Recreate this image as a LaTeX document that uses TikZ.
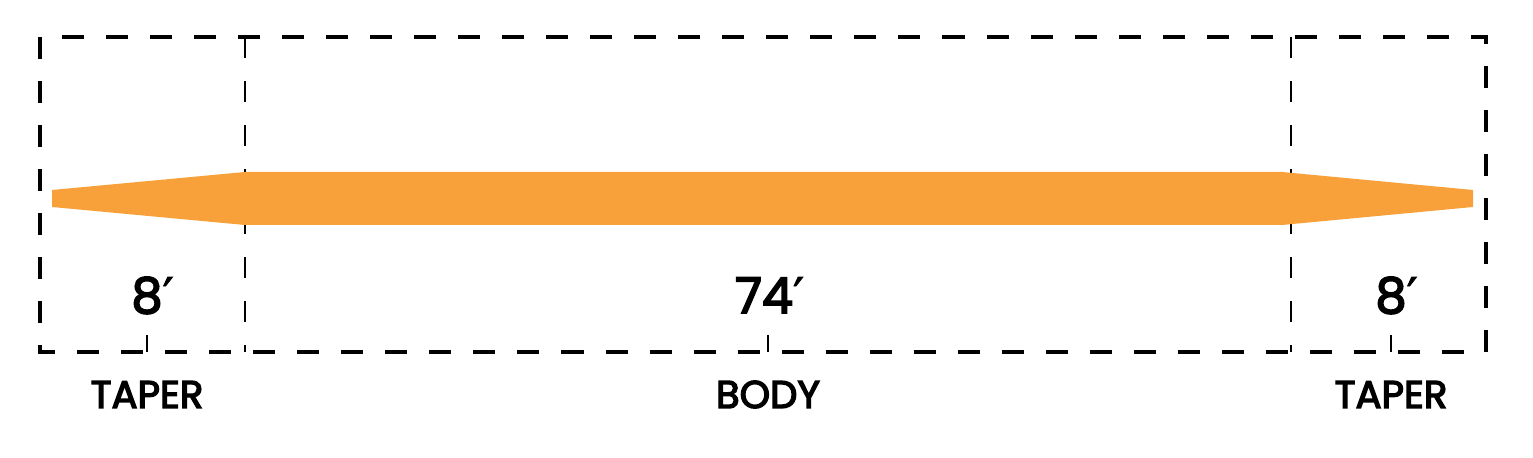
\documentclass[tikz,border=0pt]{standalone}
\usepackage{fontspec}
\setmainfont{Poppins}
\newfontfamily\medfont{Poppins}[FakeBold=3.5]
\newfontfamily\primefont{DejaVu Sans}[FakeBold=1.5]
\usetikzlibrary{positioning}
\definecolor{lineorange}{RGB}{248,160,58}
\newcommand{\feet}{\rlap{\primefont ′}}

\begin{document}
\begin{tikzpicture}[x=0.01cm,y=-0.01cm,
    frame/.style={line width=1.15pt,dash pattern=on 0.22cm off 0.22cm},
    divider/.style={line width=0.55pt,dash pattern=on 0.21cm off 0.23cm},
    tick/.style={line width=0.5pt},
    length/.style={anchor=base,font=\fontsize{14}{14}\selectfont\medfont},
    section/.style={anchor=base,font=\fontsize{11}{11}\selectfont\medfont}]
  % keep the margins of the reference
  \useasboundingbox (0,0) rectangle (1533,458);

  % outer dashed frame
  \draw[frame] (40,37) rectangle (1486,352);

  % dashed dividers between taper and body
  \draw[divider] (245,37) -- (245,352);
  \draw[divider] (1291,37) -- (1291,352);

  % the fly line: taper, body, taper
  \fill[lineorange] (52,190) -- (245,172) -- (1282,172) -- (1473,190)
    -- (1473,207) -- (1282,225) -- (245,225) -- (52,207) -- cycle;

  % ticks on the bottom edge, one under each length
  \coordinate (tickA) at (147,352);
  \coordinate (tickB) at (768,352);
  \coordinate (tickC) at (1391,352);
  \coordinate (tickAtop) at (147,335);
  \coordinate (tickBtop) at (768,335);
  \coordinate (tickCtop) at (1391,335);
  \draw[tick] (tickAtop) -- (tickA);
  \draw[tick] (tickBtop) -- (tickB);
  \draw[tick] (tickCtop) -- (tickC);

  % lengths above the ticks
  \node[length] (lenA) at (147,313) {8\feet};
  \node[length] (lenB) at (764,313) {74\feet};
  \node[length] (lenC) at (1391,313) {8\feet};

  % section names below the frame
  \node[section] (taperA) at (147,408) {TAPER};
  \node[section] (body) at (768,408) {BODY};
  \node[section] (taperC) at (1391,408) {TAPER};
\end{tikzpicture}
\end{document}
